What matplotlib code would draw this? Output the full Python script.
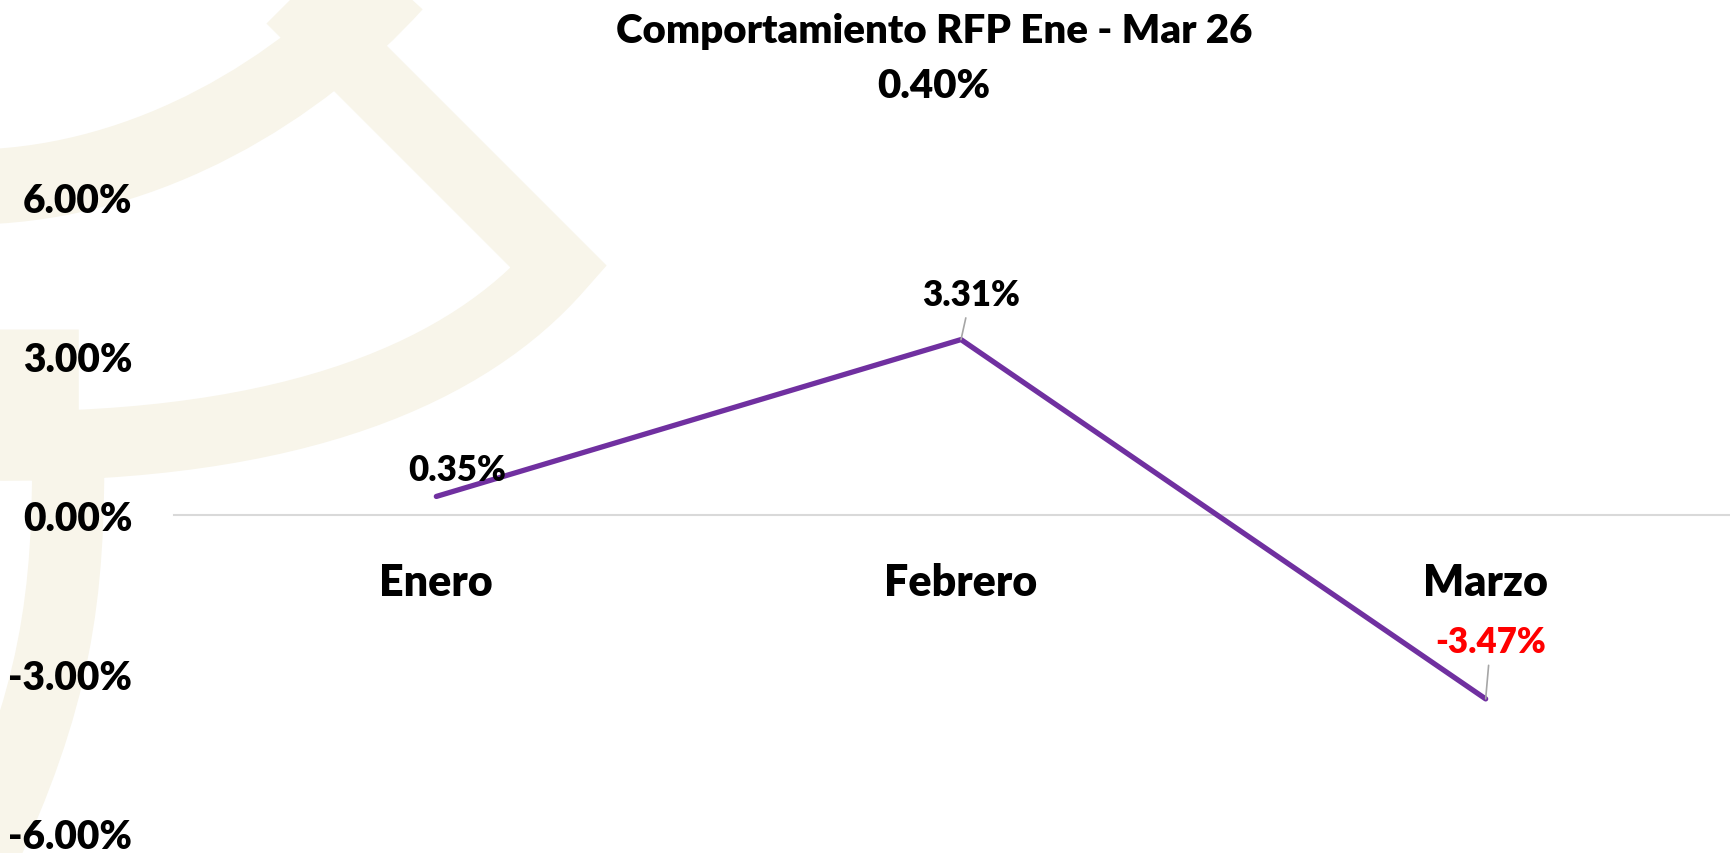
import matplotlib.pyplot as plt
from matplotlib.path import Path
from matplotlib.patches import PathPatch

# datos del grafico
meses = ["Enero", "Febrero", "Marzo"]
rendimiento = [0.35, 3.31, -3.47]
y_ticks = [-6, -3, 0, 3, 6]
titulo = "Comportamiento RFP Ene - Mar 26"
acumulado = "0.40%"

peso = 'heavy'
plt.rcParams['font.family'] = ['Lato', 'DejaVu Sans']
plt.rcParams['font.weight'] = peso

fig = plt.figure(figsize=(17.31, 8.54), dpi=100)

# marca de agua (logo beige al fondo), en pixeles de la figura
bg = fig.add_axes([0, 0, 1, 1], zorder=0)
bg.set_xlim(0, 1731)
bg.set_ylim(854, 0)
bg.axis('off')
beige = '#F8F5EA'
M, L, C = Path.MOVETO, Path.LINETO, Path.CURVE4
trazos = [
    ([(-20, 188), (150, 183), (300, 90), (395, -15)], [M, C, C, C], 54),
    ([(271, -20), (559, 268), (470, 370), (300, 450), (-10, 447)], [M, L, C, C, C], 50),
    ([(68, 440), (70, 600), (55, 700), (-20, 860)], [M, C, C, C], 52),
    ([(38, 470), (38, 330)], [M, L], 58),
]
for verts, codes, grosor in trazos:
    bg.add_patch(PathPatch(Path(verts, codes), facecolor='none', edgecolor=beige,
                           lw=grosor, capstyle='butt', joinstyle='miter'))

ax = fig.add_axes([174 / 1731, 20 / 854, 1574 / 1731, 636 / 854], zorder=1)
ax.set_facecolor('none')
for s in ['top', 'right', 'left']:
    ax.spines[s].set_visible(False)
ax.spines['bottom'].set_position(('data', 0))
ax.spines['bottom'].set_color('#D9D9D9')
ax.spines['bottom'].set_linewidth(1.5)

x = list(range(len(meses)))
ax.plot(x, rendimiento, color='#7030A0', lw=3.8, solid_capstyle='round', zorder=3)

offsets = [(21, 27), (10, 45), (5, 57)]
for i, v in enumerate(rendimiento):
    color = 'red' if v < 0 else 'black'
    arrow = None
    if i > 0:
        arrow = dict(arrowstyle='-', color='#A6A6A6', lw=1.2, shrinkA=3, shrinkB=0)
    ax.annotate(f'{v:.2f}%', xy=(i, v), xytext=offsets[i], textcoords='offset pixels',
                ha='center', va='center', fontsize=25, fontweight=peso, color=color,
                arrowprops=arrow, zorder=4)

ax.set_xlim(-0.5, 2.5)
ax.set_ylim(-6, 6)
ax.set_yticks(y_ticks)
ax.set_yticklabels([f'{t:.2f}%' for t in y_ticks], fontsize=28, fontweight=peso)
ax.set_xticks(x)
ax.set_xticklabels(meses, fontsize=31, fontweight=peso)
ax.tick_params(axis='x', length=0, pad=34)
ax.tick_params(axis='y', length=0, pad=30)

fig.text(934 / 1731, 1 - 31 / 854, titulo, ha='center', va='center',
         fontsize=29, fontweight=peso)
fig.text(934 / 1731, 1 - 86 / 854, acumulado, ha='center', va='center',
         fontsize=29, fontweight=peso)

fig.savefig('out.png', dpi=100)
